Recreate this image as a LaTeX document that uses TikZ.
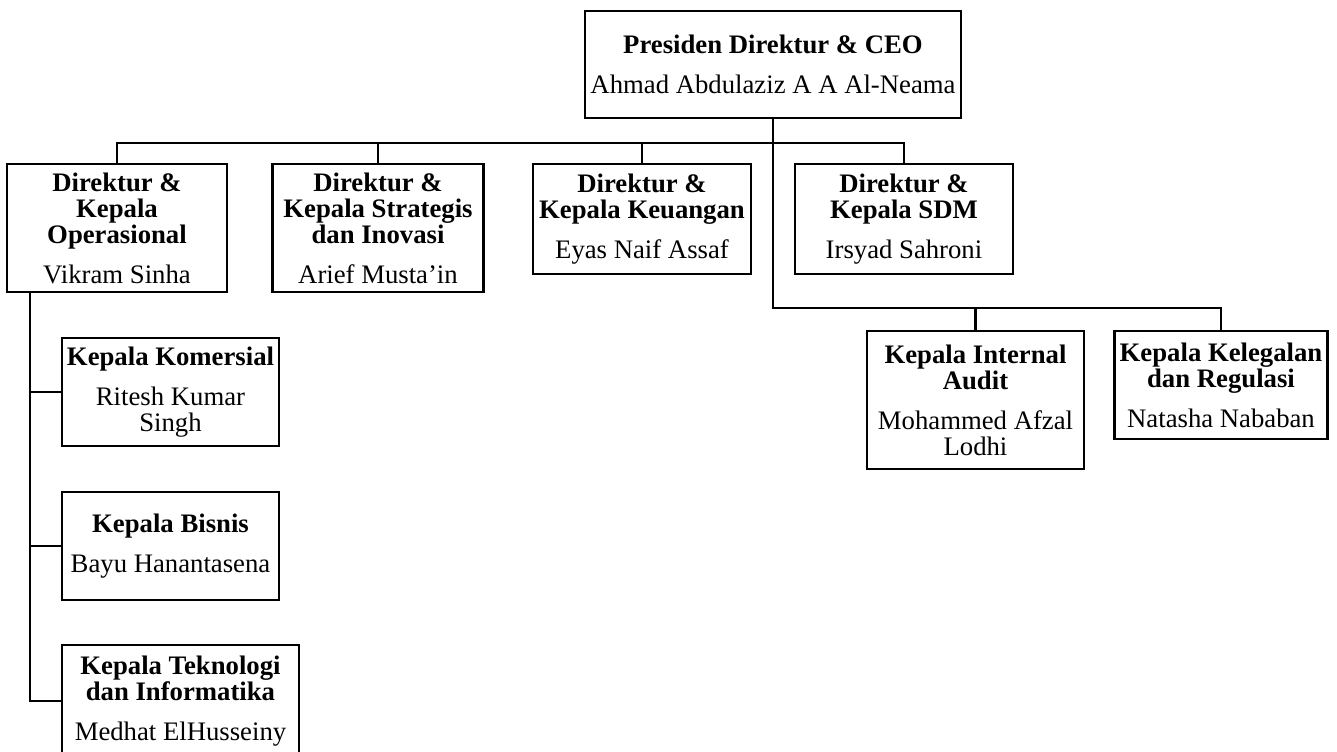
\documentclass[tikz,border=0pt]{standalone}
\usepackage{fontspec}
\setmainfont{Liberation Serif}
\usepackage{tikz}

\tikzset{
    jabatan/.style 2 args={draw, line width=1.9pt, align=center, inner sep=0pt,
        minimum width=#1*0.025cm, minimum height=#2*0.025cm,
        font=\fontsize{19}{18.5}\selectfont},
    garis/.style={line width=1.7pt}
}

\begin{document}
\begin{tikzpicture}[x=0.025cm, y=-0.025cm]
    \useasboundingbox (0,0) rectangle (1337,751);
    % Puncak
    \node[jabatan={376}{107}] (ceo) at (773,64.5)
        {\textbf{Presiden Direktur \& CEO}\\[10pt] Ahmad Abdulaziz A A Al-Neama};
    % Direktur
    \node[jabatan={220}{128}] (ops) at (117,228)
        {\textbf{Direktur \&}\\ \textbf{Kepala}\\ \textbf{Operasional}\\[10pt] Vikram Sinha};
    \node[jabatan={211}{128}] (strat) at (378,228)
        {\textbf{Direktur \&}\\ \textbf{Kepala Strategis}\\ \textbf{dan Inovasi}\\[10pt] Arief Musta’in};
    \node[jabatan={218}{110}] (keu) at (642,219)
        {\textbf{Direktur \&}\\ \textbf{Kepala Keuangan}\\[10pt] Eyas Naif Assaf};
    \node[jabatan={218}{110}] (sdm) at (904,219)
        {\textbf{Direktur \&}\\ \textbf{Kepala SDM}\\[10pt] Irsyad Sahroni};
    % Di bawah CEO
    \node[jabatan={217}{138}] (audit) at (975.5,400)
        {\textbf{Kepala Internal}\\ \textbf{Audit}\\[10pt] Mohammed Afzal\\ Lodhi};
    \node[jabatan={213}{108}] (legal) at (1221,385)
        {\textbf{Kepala Kelegalan}\\ \textbf{dan Regulasi}\\[10pt] Natasha Nababan};
    % Di bawah Operasional
    \node[jabatan={217}{108}] (kom) at (170.5,392)
        {\textbf{Kepala Komersial}\\[10pt] Ritesh Kumar\\ Singh};
    \node[jabatan={217}{108}] (bis) at (170.5,546)
        {\textbf{Kepala Bisnis}\\[10pt] Bayu Hanantasena};
    \node[jabatan={237}{112}] (tek) at (180.5,701)
        {\textbf{Kepala Teknologi}\\ \textbf{dan Informatika}\\[10pt] Medhat ElHusseiny};
    % Garis
    \coordinate (bus1) at (773,143);
    \coordinate (bus2) at (773,308);
    \coordinate (kiri) at (30,292);
    \draw[garis] (ops.north) |- (bus1) -| (sdm.north);
    \draw[garis] (strat.north) -- (strat.north |- bus1);
    \draw[garis] (keu.north) -- (keu.north |- bus1);
    \draw[garis] (ceo.south) -- (bus2) -| (legal.north);
    \draw[garis] (audit.north) -- (audit.north |- bus2);
    \draw[garis] (kiri) |- (tek.west);
    \draw[garis] (kom.west) -- (kom.west -| kiri);
    \draw[garis] (bis.west) -- (bis.west -| kiri);
\end{tikzpicture}
\end{document}
